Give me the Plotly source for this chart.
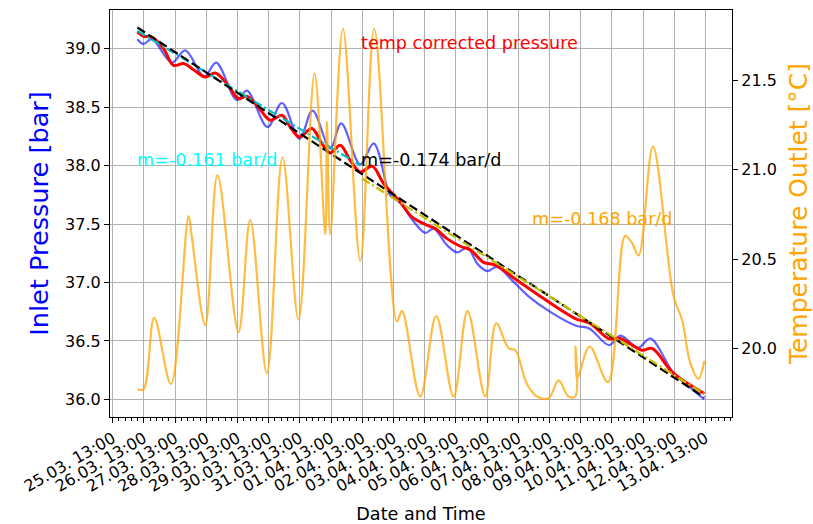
import pandas as pd
import plotly.graph_objects as go

YEAR = "2024"

# Inlet pressure as measured [bar]
p_time = ["03-26 08:00", "03-26 12:40", "03-26 19:10", "03-27 10:30", "03-27 20:45",
          "03-28 11:25", "03-28 20:35", "03-29 12:30", "03-29 20:10", "03-30 12:05",
          "03-30 23:10", "03-31 12:40", "03-31 22:40", "04-01 12:20", "04-01 20:45",
          "04-02 11:25", "04-02 21:40", "04-03 07:55", "04-03 10:30", "04-03 18:10",
          "04-04 01:50", "04-04 13:20", "04-04 19:50", "04-05 06:05", "04-05 14:00",
          "04-05 21:40", "04-06 05:50", "04-06 13:05", "04-06 20:30", "04-07 09:20",
          "04-07 20:35", "04-08 13:30", "04-09 09:30", "04-09 19:30", "04-10 10:55",
          "04-10 19:25", "04-11 09:10", "04-11 18:30", "04-12 11:50", "04-13 00:40",
          "04-13 12:00"]
p_raw = [39.08, 39.04, 39.08, 38.88, 38.985,
         38.76, 38.88, 38.56, 38.64, 38.33,
         38.535, 38.23, 38.47, 38.145, 38.36,
         38.01, 38.19, 37.82, 37.745, 37.68,
         37.56, 37.425, 37.46, 37.32, 37.257,
         37.298, 37.155, 37.098, 37.133, 37.005,
         36.884, 36.749, 36.63, 36.607, 36.464,
         36.545, 36.443, 36.521, 36.235, 36.108,
         36.0]

# Temperature corrected inlet pressure [bar]
pc_time = ["03-26 08:00", "03-26 12:40", "03-26 19:10", "03-27 04:05", "03-27 11:45",
           "03-27 19:30", "03-28 03:10", "03-28 12:10", "03-28 19:50", "03-29 04:50",
           "03-29 13:45", "03-29 20:10", "03-30 03:55", "03-30 14:10", "03-30 23:10",
           "03-31 05:30", "03-31 12:40", "03-31 22:10", "04-01 05:55", "04-01 12:20",
           "04-01 20:00", "04-02 03:40", "04-02 11:25", "04-02 20:35", "04-03 05:20",
           "04-03 18:10", "04-04 03:05", "04-04 14:40", "04-04 21:05", "04-05 06:05",
           "04-05 16:20", "04-06 00:00", "04-06 10:15", "04-06 19:15", "04-07 11:55",
           "04-08 08:25", "04-09 08:45", "04-09 20:15", "04-10 10:25", "04-10 19:25",
           "04-11 12:05", "04-11 19:50", "04-12 12:25", "04-13 12:00"]
p_corr = [39.142, 39.105, 39.099, 39.0, 38.857,
          38.872, 38.82, 38.757, 38.791, 38.70,
          38.573, 38.592, 38.515, 38.387, 38.43,
          38.33, 38.244, 38.316, 38.188, 38.108,
          38.174, 38.045, 37.945, 37.995, 37.846,
          37.689, 37.561, 37.49, 37.462, 37.375,
          37.31, 37.28, 37.172, 37.148, 37.02,
          36.863, 36.692, 36.65, 36.521, 36.521,
          36.421, 36.436, 36.222, 36.051]

# Outlet temperature [°C]
t_time = ["03-26 08:00", "03-26 12:40", "03-26 20:55", "03-27 09:45", "03-27 23:20",
          "03-28 01:55", "03-28 12:10", "03-28 21:35", "03-29 13:45", "03-29 22:45",
          "03-30 11:35", "03-30 23:35", "03-31 11:55", "04-01 00:15", "04-01 08:30",
          "04-01 09:45", "04-01 12:20", "04-01 22:05", "04-02 11:25", "04-02 22:10",
          "04-03 15:35", "04-03 19:30", "04-04 09:30", "04-04 21:50", "04-05 11:10",
          "04-05 21:55", "04-06 11:30", "04-06 20:00", "04-07 05:30", "04-07 10:35",
          "04-07 19:35", "04-08 03:20", "04-08 12:15", "04-08 19:55", "04-09 03:35",
          "04-09 08:45", "04-09 08:55", "04-09 10:00", "04-09 12:00", "04-09 19:55",
          "04-10 09:55", "04-10 23:10", "04-11 04:25", "04-11 09:30", "04-11 20:30",
          "04-12 12:25", "04-12 18:50", "04-13 01:10", "04-13 07:35", "04-13 12:00"]
t_out = [19.77, 19.77, 20.17, 19.80, 20.74,
         20.62, 20.13, 20.97, 20.09, 20.72,
         19.86, 21.07, 20.16, 21.54, 20.64,
         21.27, 20.64, 21.79, 20.49, 21.79,
         20.15, 20.21, 19.73, 20.18, 19.73,
         20.21, 19.73, 20.14, 20.00, 19.99,
         19.80, 19.73, 19.72, 19.82, 19.73,
         19.73, 20.01, 19.83, 19.86, 20.01,
         19.81, 20.63, 20.59, 20.52, 21.13,
         20.29, 20.16, 19.92, 19.83, 19.93]

# Linear trends: slope [bar/d], start/end of fitted window, value at start
fit_slope = [-0.161, -0.174, -0.168]
fit_start = ["03-26 08:00", "03-26 08:00", "04-02 12:40"]
fit_end = ["04-02 11:00", "04-13 12:00", "04-13 12:00"]
fit_p0 = [39.152, 39.18, 37.89]


def ts(s):
    return pd.to_datetime(f"{YEAR}-{s}")


fig = go.Figure()

fig.add_trace(go.Scatter(x=[ts(s) for s in p_time], y=p_raw, mode="lines",
                         line=dict(color="rgba(0,0,255,0.62)", width=2.2, shape="spline"),
                         name="Inlet Pressure"))
fig.add_trace(go.Scatter(x=[ts(s) for s in pc_time], y=p_corr, mode="lines",
                         line=dict(color="red", width=3, shape="spline"),
                         name="temp corrected pressure"))

fit_styles = [dict(color="#00bfbf", dash="9px,3px,2px,3px"),
              dict(color="black", dash="9px,4px"),
              dict(color="#bfbf00", dash="9px,3px,2px,3px")]
fit_text_color = ["cyan", "black", "orange"]
for m, a, b, p0, st in zip(fit_slope, fit_start, fit_end, fit_p0, fit_styles):
    t0, t1 = ts(a), ts(b)
    days = (t1 - t0) / pd.Timedelta(days=1)
    fig.add_trace(go.Scatter(x=[t0, t1], y=[p0, p0 + m * days], mode="lines",
                             line=dict(width=2.2, **st), name=f"m={m:.3f} bar/d"))

fig.add_trace(go.Scatter(x=[ts(s) for s in t_time], y=t_out, mode="lines", yaxis="y2",
                         line=dict(color="rgba(255,165,0,0.75)", width=2.2, shape="spline"),
                         name="Temperature Outlet"))

font_main = "DejaVu Sans"
annos = [
    dict(x=ts("04-02 12:00"), y=39.045, text="temp corrected pressure", color="red"),
    dict(x=ts("03-26 08:00"), y=38.045, text=f"m={fit_slope[0]:.3f} bar/d", color=fit_text_color[0]),
    dict(x=ts("04-02 12:00"), y=38.045, text=f"m={fit_slope[1]:.3f} bar/d", color=fit_text_color[1]),
    dict(x=ts("04-07 23:40"), y=37.54, text=f"m={fit_slope[2]:.3f} bar/d", color=fit_text_color[2]),
]
for a in annos:
    fig.add_annotation(x=a["x"], y=a["y"], xref="x", yref="y", text=a["text"],
                       showarrow=False, xanchor="left", yanchor="middle", xshift=-2,
                       font=dict(family=font_main, size=17.6, color=a["color"]))

grid = "#b0b0b0"
fig.update_layout(
    width=813, height=524,
    margin=dict(l=110, r=81, t=10, b=107, autoexpand=False),
    paper_bgcolor="white", plot_bgcolor="white",
    showlegend=False,
    font=dict(family=font_main, size=16, color="black"),
    xaxis=dict(
        type="date",
        range=[ts("03-25 10:55"), ts("04-14 09:19")],
        tick0=ts("03-25 13:00"), dtick=86400000,
        tickformat="%d.%m. %H:%M", tickangle=-30,
        showgrid=True, gridcolor=grid, gridwidth=1.2,
        showline=True, linecolor="black", linewidth=1.2, mirror=True,
        ticks="outside", ticklen=5, tickwidth=1.2, tickcolor="black",
        tickfont=dict(size=16),
        minor=dict(dtick=17280000, tick0=ts("03-25 13:00"), ticks="outside",
                   ticklen=3, tickwidth=1, tickcolor="black", showgrid=False),
        title=dict(text="Date and Time", font=dict(size=17.6), standoff=13),
        zeroline=False,
    ),
    yaxis=dict(
        range=[35.85, 39.33], tick0=36, dtick=0.5, tickformat=".1f",
        showgrid=True, gridcolor=grid, gridwidth=1.2,
        showline=True, linecolor="black", linewidth=1.2,
        ticks="outside", ticklen=5, tickwidth=1.2, tickcolor="black",
        tickfont=dict(size=16),
        title=dict(text="Inlet Pressure [bar]", font=dict(size=25.6, color="blue"), standoff=9),
        zeroline=False,
    ),
    yaxis2=dict(
        overlaying="y", side="right",
        range=[19.615, 21.895], tick0=20, dtick=0.5, tickformat=".1f",
        showgrid=False,
        showline=True, linecolor="black", linewidth=1.2,
        ticks="outside", ticklen=5, tickwidth=1.2, tickcolor="black",
        tickfont=dict(size=16),
        title=dict(text="Temperature Outlet [°C]", font=dict(size=25, color="orange"), standoff=13),
        zeroline=False,
    ),
)

fig.write_html("out.html")
